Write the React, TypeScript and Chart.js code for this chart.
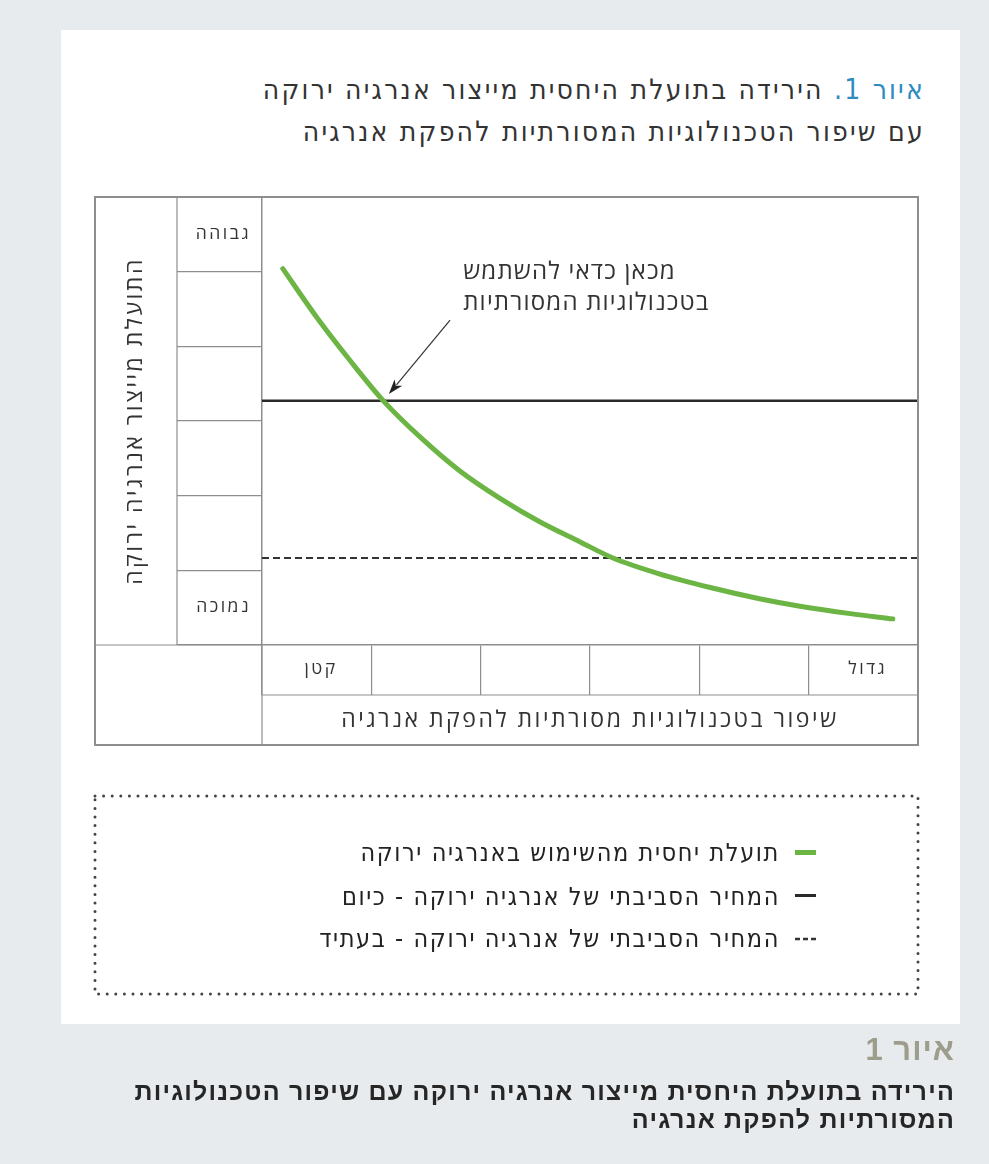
import React, { useEffect, useRef } from 'react';
import { Chart, registerables } from 'chart.js';

Chart.register(...registerables);

// ---------- data ----------
const xCellLabels = ['קטן', '', '', '', '', 'גדול'];
const yCellLabels = ['נמוכה', '', '', '', '', 'גבוהה'];
const xAxisTitle = 'שיפור בטכנולוגיות מסורתיות להפקת אנרגיה';
const yAxisTitle = 'התועלת מייצור אנרגיה ירוקה';

const benefitX = [0.19, 0.5, 0.8, 1.11, 1.45, 1.81, 2.18, 2.54, 2.91, 3.21, 3.64, 4.1, 4.55, 4.92, 5.38, 5.77];
const benefitY = [5.04, 4.39, 3.82, 3.27, 2.78, 2.33, 1.96, 1.65, 1.38, 1.165, 0.95, 0.77, 0.62, 0.52, 0.42, 0.35];

const priceX = [0, 6];
const todayPrice = 3.27;
const futurePrice = 1.165;

const seriesLabels = [
  'תועלת יחסית מהשימוש באנרגיה ירוקה',
  'המחיר הסביבתי של אנרגיה ירוקה - כיום',
  'המחיר הסביבתי של אנרגיה ירוקה - בעתיד',
];

const noteLines = ['מכאן כדאי להשתמש', 'בטכנולוגיות המסורתיות'];
const noteX = 1.84;
const noteY = [5.0, 4.58];
const arrowFrom = [1.72, 4.35];
const arrowTo = [1.16, 3.36];

const titleNumber = 'איור 1.';
const titleLine1 = 'הירידה בתועלת היחסית מייצור אנרגיה ירוקה';
const titleLine2 = 'עם שיפור הטכנולוגיות המסורתיות להפקת אנרגיה';
const captionNumber = 'איור 1';
const captionLines = [
  'הירידה בתועלת היחסית מייצור אנרגיה ירוקה עם שיפור הטכנולוגיות',
  'המסורתיות להפקת אנרגיה',
];

// ---------- styles ----------
const GREEN = '#6cb545';
const BLACK = '#2a2a2a';
const GRID = '#8e8e8e';
const TEXT = '#333333';
const FONT = "'Open Sans', 'DejaVu Sans', sans-serif";
const NARROW = "'DejaVu Sans Condensed', 'Liberation Sans', sans-serif";

const seriesStyles = [
  { color: GREEN, width: 5, dash: [] as number[] },
  { color: BLACK, width: 2.5, dash: [] as number[] },
  { color: '#333333', width: 2, dash: [7, 4] },
];

const tablePlugin = {
  id: 'tableFrame',
  afterDraw(chart: any) {
    const { ctx, chartArea: ca } = chart;
    const xs = chart.scales.x;
    const ys = chart.scales.y;
    const left = ys.left;
    const right = ca.right;
    const top = ca.top;
    const bottom = xs.bottom;
    const tickCol = ys.right - ys.options.grid.tickLength;
    const tickRow = xs.top + xs.options.grid.tickLength;
    const line = (x1: number, y1: number, x2: number, y2: number) => {
      ctx.beginPath();
      ctx.moveTo(x1, y1);
      ctx.lineTo(x2, y2);
      ctx.stroke();
    };
    ctx.save();
    ctx.strokeStyle = GRID;
    ctx.lineWidth = 1.2;
    line(tickCol, top, tickCol, ca.bottom);
    line(left, ca.bottom, ca.left, ca.bottom);
    line(ca.left, tickRow, right, tickRow);
    line(ca.left, ca.bottom, ca.left, bottom);
    ctx.lineWidth = 2;
    ctx.strokeRect(left, top, right - left, bottom - top);
    ctx.restore();
  },
};

const notePlugin = {
  id: 'note',
  afterDatasetsDraw(chart: any) {
    const { ctx } = chart;
    const X = chart.scales.x;
    const Y = chart.scales.y;
    const x0 = X.getPixelForValue(arrowFrom[0]);
    const y0 = Y.getPixelForValue(arrowFrom[1]);
    const x1 = X.getPixelForValue(arrowTo[0]);
    const y1 = Y.getPixelForValue(arrowTo[1]);
    const ang = Math.atan2(y1 - y0, x1 - x0);
    const headLen = 15;
    const headW = 5;
    const bx = x1 - headLen * Math.cos(ang);
    const by = y1 - headLen * Math.sin(ang);
    ctx.save();
    ctx.strokeStyle = '#333';
    ctx.fillStyle = '#222';
    ctx.lineWidth = 1.2;
    ctx.beginPath();
    ctx.moveTo(x0, y0);
    ctx.lineTo(bx + 3 * Math.cos(ang), by + 3 * Math.sin(ang));
    ctx.stroke();
    ctx.beginPath();
    ctx.moveTo(x1, y1);
    ctx.lineTo(bx + headW * Math.sin(ang), by - headW * Math.cos(ang));
    ctx.lineTo(bx + 4 * Math.cos(ang), by + 4 * Math.sin(ang));
    ctx.lineTo(bx - headW * Math.sin(ang), by + headW * Math.cos(ang));
    ctx.closePath();
    ctx.fill();

    ctx.font = `24px ${FONT}`;
    (ctx as any).letterSpacing = '1.2px';
    ctx.fillStyle = TEXT;
    (ctx as any).direction = 'rtl';
    ctx.textAlign = 'left';
    ctx.textBaseline = 'middle';
    noteLines.forEach((t, i) => {
      ctx.fillText(t, X.getPixelForValue(noteX), Y.getPixelForValue(noteY[i]));
    });
    ctx.restore();
  },
};

const spacingPlugin = {
  id: 'spacing',
  beforeDraw(chart: any) {
    chart.ctx.letterSpacing = '2.5px';
  },
  afterDraw(chart: any) {
    chart.ctx.letterSpacing = '0px';
  },
};

export default function App() {
  const canvasRef = useRef<HTMLCanvasElement>(null);

  useEffect(() => {
    const canvas = canvasRef.current;
    if (!canvas) return;
    const data = {
      datasets: [
        {
          label: seriesLabels[0],
          data: benefitX.map((x, i) => ({ x, y: benefitY[i] })),
          borderColor: seriesStyles[0].color,
          borderWidth: seriesStyles[0].width,
          borderCapStyle: 'round',
          cubicInterpolationMode: 'monotone',
          pointRadius: 0,
          fill: false,
        },
        {
          label: seriesLabels[1],
          data: priceX.map((x) => ({ x, y: todayPrice })),
          borderColor: seriesStyles[1].color,
          borderWidth: seriesStyles[1].width,
          pointRadius: 0,
          fill: false,
        },
        {
          label: seriesLabels[2],
          data: priceX.map((x) => ({ x, y: futurePrice })),
          borderColor: seriesStyles[2].color,
          borderWidth: seriesStyles[2].width,
          borderDash: seriesStyles[2].dash,
          pointRadius: 0,
          fill: false,
        },
      ],
    };
    const chart = new Chart(canvas, {
      type: 'line',
      data: data as any,
      options: {
        responsive: false,
        animation: false,
        devicePixelRatio: 1,
        events: [],
        layout: { padding: 5 },
        plugins: {
          legend: { display: false },
          tooltip: { enabled: false },
          title: { display: false },
        },
        scales: {
          x: {
            type: 'linear',
            position: 'bottom',
            min: 0,
            max: 6,
            afterFit: (s: any) => {
              s.height = 100;
            },
            ticks: {
              stepSize: 1,
              autoSkip: false,
              maxRotation: 0,
              labelOffset: 59,
              padding: -36,
              color: TEXT,
              font: { family: FONT, size: 17.5, lineHeight: 1.2 },
              callback: (v: any) => xCellLabels[v as number] ?? '',
            },
            grid: { drawOnChartArea: false, drawTicks: true, tickLength: 50, color: GRID, lineWidth: 1.2 },
            border: { display: true, color: GRID, width: 1.5 },
            title: {
              display: true,
              text: xAxisTitle,
              color: TEXT,
              font: { family: FONT, size: 23, lineHeight: 1.2 },
              padding: { top: 0, bottom: 11 },
            },
          },
          y: {
            type: 'linear',
            position: 'left',
            min: 0,
            max: 6,
            afterFit: (s: any) => {
              s.width = 167;
            },
            ticks: {
              stepSize: 1,
              autoSkip: false,
              labelOffset: 37,
              padding: -74,
              color: TEXT,
              font: { family: FONT, size: 17.5, lineHeight: 1.2 },
              callback: (v: any) => yCellLabels[(v as number) - 1] ?? '',
            },
            grid: { drawOnChartArea: false, drawTicks: true, tickLength: 85, color: GRID, lineWidth: 1.2 },
            border: { display: true, color: GRID, width: 1.5 },
            title: {
              display: true,
              text: yAxisTitle,
              color: TEXT,
              font: { family: FONT, size: 23, lineHeight: 1.2 },
              padding: { top: 27, bottom: 0 },
            },
          },
        },
      } as any,
      plugins: [spacingPlugin, tablePlugin, notePlugin],
    });
    return () => chart.destroy();
  }, []);

  const sample = (i: number) => {
    const s = seriesStyles[i];
    if (s.dash.length) {
      return (
        <svg width={22} height={6} style={{ display: 'block' }}>
          <line x1={0} y1={3} x2={22} y2={3} stroke={s.color} strokeWidth={2.5} strokeDasharray="5 3" />
        </svg>
      );
    }
    return <div style={{ width: 21, height: s.width === 5 ? 5 : 3, background: s.color }} />;
  };

  const legendY = [853, 897, 939];

  const titleStyle: React.CSSProperties = {
    position: 'absolute',
    right: 64,
    lineHeight: '34px',
    fontSize: 28,
    fontFamily: NARROW,
    color: TEXT,
    whiteSpace: 'nowrap',
    letterSpacing: '2.2px',
  };

  return (
    <div
      style={{
        position: 'absolute',
        left: 0,
        top: 0,
        width: 989,
        height: 1164,
        background: '#e8ebee',
        overflow: 'hidden',
        fontFamily: FONT,
      }}
    >
      <div style={{ position: 'absolute', left: 61, top: 30, width: 899, height: 994, background: '#ffffff' }} />

      <div dir="rtl" style={{ ...titleStyle, top: 73 }}>
        <span style={{ color: '#2e8bc0' }}>{titleNumber}</span> {titleLine1}
      </div>
      <div dir="rtl" style={{ ...titleStyle, top: 115 }}>
        {titleLine2}
      </div>

      <canvas
        ref={canvasRef}
        width={833}
        height={558}
        style={{ position: 'absolute', left: 90, top: 192, width: 833, height: 558 }}
      />

      <svg
        width={989}
        height={1164}
        style={{ position: 'absolute', left: 0, top: 0, pointerEvents: 'none' }}
      >
        <rect
          x={95}
          y={796}
          width={823}
          height={198}
          fill="none"
          stroke="#444"
          strokeWidth={3}
          strokeDasharray="0 8.6"
          strokeLinecap="round"
        />
      </svg>

      {seriesLabels.map((label, i) => (
        <React.Fragment key={label}>
          <div style={{ position: 'absolute', left: 795, top: legendY[i] - 3 }}>{sample(i)}</div>
          <div
            dir="rtl"
            style={{
              position: 'absolute',
              right: 989 - 780,
              top: legendY[i] - 16,
              lineHeight: '32px',
              fontSize: 25,
              fontFamily: NARROW,
              color: '#222',
              whiteSpace: 'nowrap',
              letterSpacing: '1.6px',
            }}
          >
            {label}
          </div>
        </React.Fragment>
      ))}

      <div
        dir="rtl"
        style={{
          position: 'absolute',
          right: 34,
          top: 1033,
          lineHeight: '34px',
          fontSize: 31,
          fontWeight: 'bold',
          fontFamily: "'Liberation Sans', sans-serif",
          color: '#9e9d8c',
          whiteSpace: 'nowrap',
          letterSpacing: '1px',
        }}
      >
        {captionNumber}
      </div>
      {captionLines.map((t, i) => (
        <div
          key={i}
          dir="rtl"
          style={{
            position: 'absolute',
            right: 34,
            top: 1076 + i * 28,
            lineHeight: '30px',
            fontSize: 25,
            fontWeight: 'bold',
            fontFamily: "'Liberation Sans', sans-serif",
            color: '#262626',
            whiteSpace: 'nowrap',
            letterSpacing: '1.2px',
          }}
        >
          {t}
        </div>
      ))}
    </div>
  );
}
